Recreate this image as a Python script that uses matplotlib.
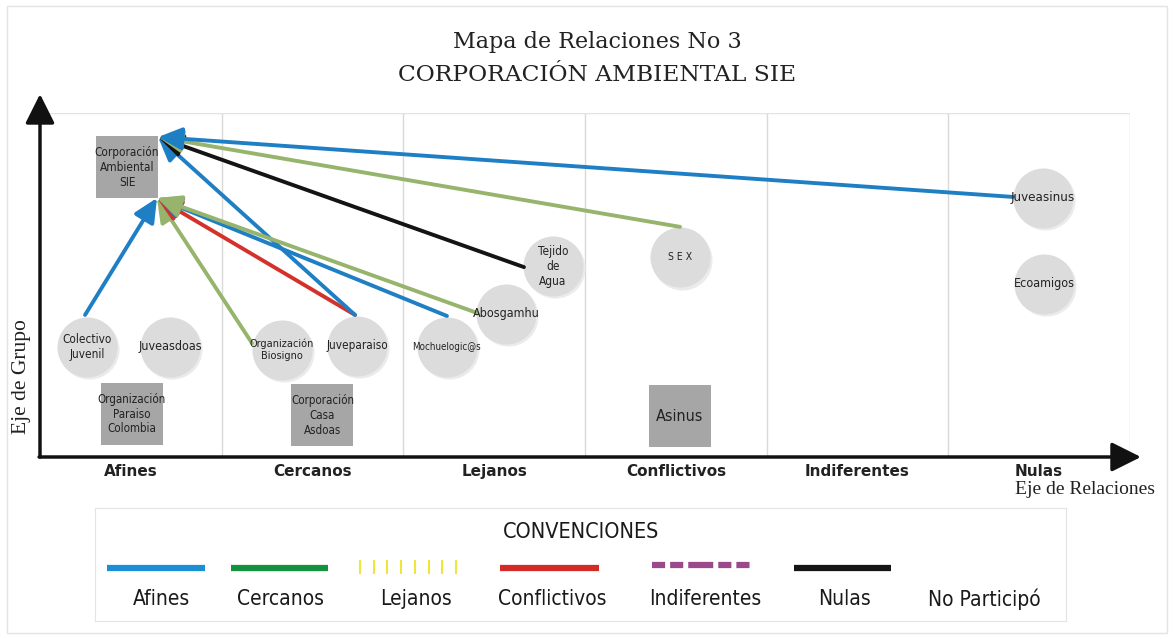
import numpy as np
import matplotlib.pyplot as plt
from matplotlib.patches import Rectangle

# ---- data -------------------------------------------------------------
categories = ["Afines", "Cercanos", "Lejanos", "Conflictivos", "Indiferentes", "Nulas"]

node_labels = ["Corporación\nAmbiental\nSIE", "Colectivo\nJuvenil", "Juveasdoas",
               "Organización\nParaiso\nColombia", "Organización\nBiosigno", "Juveparaiso",
               "Corporación\nCasa\nAsdoas", "Mochuelogic@s", "Abosgamhu", "Tejido\nde\nAgua",
               "S E X", "Asinus", "Juveasinus", "Ecoamigos"]
node_x = [0.479, 0.259, 0.716, 0.504, 1.332, 1.745, 1.555, 2.240, 2.565, 2.824, 3.523, 3.523, 5.521, 5.527]
node_y = [8.42, 3.20, 3.20, 1.25, 3.11, 3.23, 1.22, 3.21, 4.16, 5.55, 5.81, 1.18, 7.53, 5.03]
node_square = [True, False, False, True, False, False, True, False, False, False, False, True, False, False]
node_fontsize = [8.5, 8.5, 9, 8.3, 7.8, 8.5, 8.3, 7, 9, 8.5, 7.5, 11.5, 9.5, 9]

# relations pointing to the SIE node (start point, target anchor, type)
edge_x0 = [0.248, 1.167, 1.734, 1.734, 2.240, 2.405, 2.664, 3.523, 5.356]
edge_y0 = [4.13, 3.31, 4.13, 4.13, 4.10, 4.19, 5.52, 6.69, 7.56]
edge_to = ["low", "low", "low", "up", "low", "low", "up", "up", "up"]
edge_type = ["Afines", "Cercanos", "Conflictivos", "Afines", "Afines", "Cercanos",
             "Nulas", "Cercanos", "Afines"]
anchor = {"up": (0.650, 9.30), "low": (0.644, 7.53)}

legend_labels = ["Afines", "Cercanos", "Lejanos", "Conflictivos", "Indiferentes", "Nulas", "No Participó"]

line_colors = {"Afines": "#1f7fc4", "Cercanos": "#97b46d", "Conflictivos": "#d5312b", "Nulas": "#141414"}

narrow = dict(family="DejaVu Sans", stretch="condensed")

fig = plt.figure(figsize=(11.74, 6.39), dpi=100)
fig.patches.append(Rectangle((7 / 1174, 6 / 639), 1160 / 1174, 627 / 639, transform=fig.transFigure,
                             fill=False, edgecolor="#e3e3e3", lw=1))

# ---- main map ---------------------------------------------------------
ax = fig.add_axes([40 / 1174, 1 - 457 / 639, 1090 / 1174, 344 / 639])
ax.set_xlim(0, 6)
ax.set_ylim(0, 10)
for s in ax.spines.values():
    s.set_visible(False)
ax.set_yticks([])
ax.set_xticks(np.arange(len(categories)) + 0.5)
ax.set_xticklabels(categories, fontsize=11, fontweight="bold", family="DejaVu Sans", color="#222222")
ax.tick_params(axis="x", length=0, pad=5)

for i in range(1, 7):
    ax.plot([i, i], [0, 10], color="#d9d9d9", lw=1, zorder=0)
ax.plot([0, 6], [10, 10], color="#e3e3e3", lw=1, zorder=0)

# axes arrows
ax.annotate("", xy=(0, 10.55), xytext=(0, 0), annotation_clip=False,
            arrowprops=dict(arrowstyle="-|>,head_length=0.9,head_width=0.45", color="#111111",
                            lw=2.5, shrinkA=0, shrinkB=0, mutation_scale=20))
ax.annotate("", xy=(6.06, 0), xytext=(-0.005, 0), annotation_clip=False,
            arrowprops=dict(arrowstyle="-|>,head_length=0.9,head_width=0.45", color="#111111",
                            lw=2.5, shrinkA=0, shrinkB=0, mutation_scale=20))

# nodes
for lab, x, y, sq, fs in zip(node_labels, node_x, node_y, node_square, node_fontsize):
    if sq:
        ax.scatter(x, y, marker="s", s=1930, color="#a6a6a6", zorder=2, linewidths=0)
    else:
        ax.scatter(x + 0.01, y - 0.07, marker="o", s=1870, color="#ebebeb", zorder=2, linewidths=0)
        ax.scatter(x, y, marker="o", s=1870, color="#dcdcdc", zorder=2, linewidths=0)
    ax.text(x, y, lab, ha="center", va="center", fontsize=fs, **narrow,
            color="#222222", linespacing=1.2, zorder=4)

# relations
for x0, y0, to, t in zip(edge_x0, edge_y0, edge_to, edge_type):
    ax.annotate("", xy=anchor[to], xytext=(x0, y0),
                arrowprops=dict(arrowstyle="-|>,head_length=0.8,head_width=0.38",
                                color=line_colors[t], lw=2.8, shrinkA=0, shrinkB=0,
                                mutation_scale=18), zorder=3)

# titles and axis names
fig.text(597 / 1174, 1 - 42 / 639, "Mapa de Relaciones No 3", ha="center", va="center",
         fontsize=16, family="DejaVu Serif", color="#222222")
fig.text(597 / 1174, 1 - 75 / 639, "CORPORACIÓN AMBIENTAL SIE", ha="center", va="center",
         fontsize=16.8, family="DejaVu Serif", color="#222222")
fig.text(22 / 1174, 1 - 377 / 639, "Eje de Grupo", rotation=90, ha="center", va="center",
         fontsize=15.5, family="Liberation Serif", color="#222222")
fig.text(1085 / 1174, 1 - 490 / 639, "Eje de Relaciones", ha="center", va="center",
         fontsize=14, family="Liberation Serif", color="#222222")

# ---- conventions box --------------------------------------------------
lg = fig.add_axes([95 / 1174, 1 - 621 / 639, 971 / 1174, 113 / 639])
lg.set_xlim(0, 971)
lg.set_ylim(113, 0)
lg.set_xticks([])
lg.set_yticks([])
for s in lg.spines.values():
    s.set_color("#e4e4e4")
lg.text(486, 24, "CONVENCIONES", ha="center", va="center", fontsize=15.5, **narrow,
        color="#1a1a1a")

label_pos = [66, 185, 321, 457, 610, 750, 889]
seg = [(12, 110), (136, 233), (265, 361), (405, 504), (557, 655), (699, 796)]
y_line = 60
lg.plot(seg[0], [y_line, y_line], color="#1a8fd6", lw=4.5, solid_capstyle="butt")
lg.plot(seg[1], [y_line, y_line], color="#13923f", lw=4.5, solid_capstyle="butt")
lg.plot(np.linspace(seg[2][0], seg[2][1], 8), [y_line - 1] * 8, ls="none", marker="|",
        markersize=10, mew=1.5, color="#eee63a")
lg.plot(seg[3], [y_line, y_line], color="#d52b26", lw=4.5, solid_capstyle="butt")
lg.plot(seg[4], [y_line - 3, y_line - 3], color="#9a4a8a", lw=4.5, solid_capstyle="butt",
        dashes=(2.1, 0.8, 2.1, 0.8, 4.0, 0.8, 2.1, 0.8, 2.1, 0.8))
lg.plot(seg[5], [y_line, y_line], color="#151515", lw=4.5, solid_capstyle="butt")
for lab, x in zip(legend_labels, label_pos):
    lg.text(x, 91, lab, ha="center", va="center", fontsize=15, **narrow, color="#1a1a1a")

fig.savefig("out.png", dpi=100)
